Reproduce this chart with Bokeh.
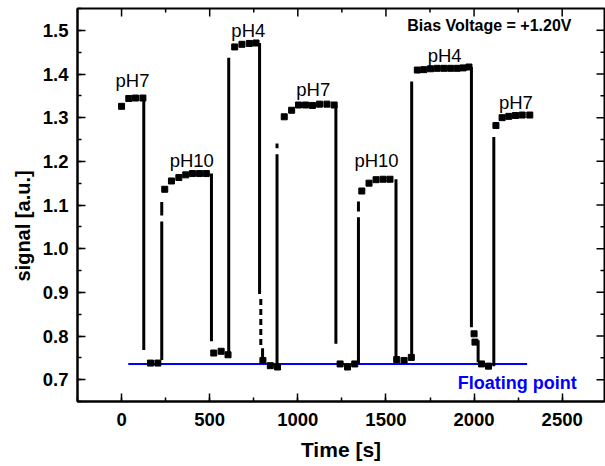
import math
from bokeh.plotting import figure
from bokeh.models import (SingleIntervalTicker, NumeralTickFormatter,
                          Range1d, Label, ColumnDataSource, Title)
from bokeh.core.properties import value
from bokeh.embed import file_html
from bokeh.resources import INLINE

# ---- data ----
# sampled points (square markers)
t_pts = [0, 41, 79, 121,
         164, 206,
         245, 283, 325, 364, 402, 442, 481,
         523, 565, 604,
         642, 683, 725, 763,
         802, 844, 885,
         923, 965, 1004, 1044, 1083, 1123, 1165, 1206,
         1240, 1282, 1323,
         1363, 1404, 1444, 1484, 1523,
         1561, 1603, 1644,
         1678, 1715, 1753, 1791, 1829, 1867, 1904, 1938, 1971,
         2000, 2005, 2042, 2082,
         2124, 2159, 2197, 2235, 2273, 2316]
s_pts = [1.326, 1.344, 1.345, 1.345,
         0.738, 0.738,
         1.136, 1.155, 1.163, 1.169, 1.172, 1.172, 1.172,
         0.761, 0.765, 0.757,
         1.462, 1.468, 1.470, 1.471,
         0.744, 0.732, 0.729,
         1.302, 1.317, 1.329, 1.329, 1.328, 1.331, 1.331, 1.329,
         0.736, 0.729, 0.736,
         1.132, 1.150, 1.158, 1.159, 1.159,
         0.746, 0.744, 0.751,
         1.409, 1.410, 1.412, 1.413, 1.413, 1.413, 1.413, 1.414, 1.416,
         0.805, 0.786, 0.736, 0.731,
         1.282, 1.300, 1.303, 1.305, 1.306, 1.306]

# fast transitions (dense samples drawn as vertical strokes)
t_jump = [126, 228, 228, 510, 608, 783, 800, 882, 882, 1216, 1344, 1344,
          1557, 1646, 1985, 2023, 2112]
s_from = [1.345, 0.745, 1.076, 1.172, 0.757, 1.471, 0.772, 0.729, 1.230, 1.329, 0.736, 1.085,
          1.159, 0.751, 1.416, 0.790, 0.731]
s_to = [0.768, 1.062, 1.107, 0.788, 1.437, 0.896, 0.745, 1.216, 1.241, 0.782, 1.072, 1.108,
        0.751, 1.383, 0.820, 0.740, 1.256]

# broken (dashed-looking) transition
t_dash = [790]
s_dash_from = [0.885]
s_dash_to = [0.775]

# floating-point reference level
float_t = [38, 2301]
float_level = [0.736, 0.736]

# pH labels (baseline positions)
ph_names = ["pH7", "pH10", "pH4", "pH7", "pH10", "pH4", "pH7"]
ph_t = [-34, 273, 623, 991, 1321, 1737, 2141]
ph_s = [1.384, 1.201, 1.499, 1.365, 1.203, 1.442, 1.335]

# axis ranges and tick values
x_lo, x_hi = -250, 2740
y_lo, y_hi = 0.65, 1.55
x_major = [0, 500, 1000, 1500, 2000, 2500]
x_minor = [250, 750, 1250, 1750, 2250]
y_major = [0.7, 0.8, 0.9, 1.0, 1.1, 1.2, 1.3, 1.4, 1.5]
y_minor = [0.75, 0.85, 0.95, 1.05, 1.15, 1.25, 1.35, 1.45]

FONT = "Liberation Sans"

p = figure(width=605, height=466, output_backend="svg", toolbar_location=None, title=None,
           x_range=Range1d(x_lo, x_hi), y_range=Range1d(y_lo, y_hi),
           min_border_left=77, min_border_right=1, min_border_top=8,
           min_border_bottom=65)
p.grid.visible = False
p.outline_line_color = "black"
p.outline_line_width = 2
p.background_fill_color = "white"
p.border_fill_color = "white"

# inward ticks on the top and right edges (screen-length rays)
TK = dict(line_color="black", line_width=1.5, length_units="screen")
p.ray(x=x_major, y=[y_hi] * len(x_major), length=8, angle=-math.pi / 2, **TK)
p.ray(x=x_minor, y=[y_hi] * len(x_minor), length=4, angle=-math.pi / 2, **TK)
p.ray(x=[x_hi] * len(y_major), y=y_major, length=8, angle=math.pi, **TK)
p.ray(x=[x_hi] * len(y_minor), y=y_minor, length=4, angle=math.pi, **TK)

# blue floating line
p.line(float_t, float_level, line_color="#0000ff", line_width=2)

# transitions
p.segment(x0=t_jump, y0=s_from, x1=t_jump, y1=s_to, line_color="black", line_width=3)
p.segment(x0=t_dash, y0=s_dash_from, x1=t_dash, y1=s_dash_to, line_color="black",
          line_width=3, line_dash="6 4")

# sampled points
p.scatter(t_pts, s_pts, marker="square", size=6, fill_color="black", line_color="black")

# pH labels
src = ColumnDataSource(dict(x=ph_t, y=ph_s, txt=ph_names))
p.text(x="x", y="y", text="txt", source=src, text_font=value(FONT),
       text_font_size="18.5px", text_color="black", text_baseline="alphabetic",
       text_align="left")

p.add_layout(Label(x=1621, y=1.512, text="Bias Voltage = +1.20V", text_font=FONT,
                   text_font_size="16px", text_font_style="bold", text_color="black",
                   text_baseline="alphabetic"))
p.add_layout(Label(x=1908, y=0.693, text="Floating point", text_font=FONT,
                   text_font_size="18px", text_font_style="bold", text_color="#0000ff",
                   text_baseline="alphabetic"))

# bottom / left axes with inward ticks
for ax in (p.xaxis[0], p.yaxis[0]):
    ax.axis_line_width = 2
    ax.axis_line_color = "black"
    ax.major_tick_in = 8
    ax.major_tick_out = 0
    ax.minor_tick_in = 4
    ax.minor_tick_out = 0
    ax.major_tick_line_color = "black"
    ax.minor_tick_line_color = "black"
    ax.major_tick_line_width = 1.5
    ax.minor_tick_line_width = 1.5
    ax.major_label_text_font = FONT
    ax.major_label_text_font_style = "bold"
    ax.major_label_text_font_size = "18.5px"
    ax.major_label_text_color = "black"
    ax.axis_label_text_font = FONT
    ax.axis_label_text_font_style = "bold"
    ax.axis_label_text_font_size = "21px"
    ax.axis_label_text_color = "black"

p.xaxis.ticker = SingleIntervalTicker(interval=500, num_minor_ticks=2)
p.yaxis.ticker = SingleIntervalTicker(interval=0.1, num_minor_ticks=2)
p.yaxis.formatter = NumeralTickFormatter(format="0.0")
p.xaxis.axis_label = "Time [s]"
p.xaxis.major_label_standoff = 11
p.yaxis.major_label_standoff = 9
p.xaxis.axis_label_standoff = 9

# y-axis title, sitting a little below the frame centre as in the reference
ytitle = Title(text="signal [a.u.]", align="left", offset=120, standoff=12,
               text_font=FONT, text_font_size="20px", text_font_style="bold",
               text_color="black")
p.add_layout(ytitle, "left")

open("out.html", "w").write(file_html(p, INLINE))
